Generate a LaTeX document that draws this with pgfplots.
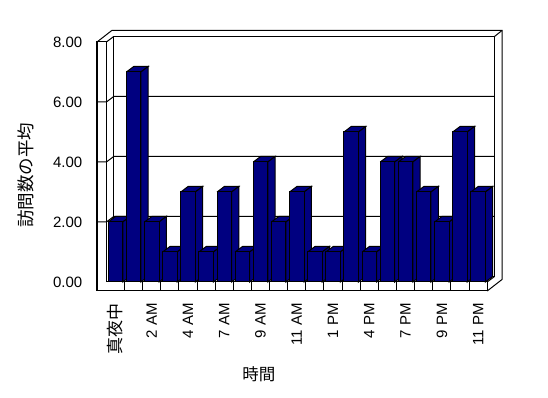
\documentclass[border=0pt]{standalone}
\usepackage{pgfplots}
\pgfplotsset{compat=1.18}
\usepackage{pgfplotstable}
\usepackage{fontspec}
\setmainfont{Liberation Sans}
\newfontfamily\cjk{Noto Sans CJK JP}
\definecolor{navybar}{RGB}{0,0,128}

\pgfplotstableread{
k v
0 2
1 7
2 2
3 1
4 3
5 1
6 3
7 1
8 4
9 2
10 3
11 1
12 1
13 5
14 1
15 4
16 4
17 3
18 2
19 5
20 3
}\datatable

\pgfplotsset{barface/.style={fill=navybar, draw=black, line width=1pt, mark=none, forget plot}}

\begin{document}
\begin{tikzpicture}
\useasboundingbox (-106.435pt,-116pt) rectangle (441.565pt,282pt);
\begin{scope}[x=1pt,y=-1pt,shift={(-106.435pt,282pt)}, line width=1pt]
  % back wall inner face
  \draw (113.7,36.5) rectangle (494.5,276.5);
  % gridlines on left wall and back wall
  \foreach \g in {222,162,102} {
    \draw (97,\g) -- (106.4,\g) -- (113.7,\g-5.5) -- (494.5,\g-5.5);
  }
  % left wall front face and floor front face
  \draw (97,42) -- (106.4,42) -- (106.4,282) -- (487.2,282) -- (487.2,291) -- (97,291) -- cycle;
  % outer top / right edges of the box
  \draw (97,42) -- (111.8,30.5) -- (502,30.5) -- (502,279.5) -- (487.2,291);
  \draw (106.4,42) -- (113.7,36.5);
  \draw (494.5,36.5) -- (502,30.5);
  \draw (487.2,282) -- (494.5,276.5);
  % separators on the floor front face
  \foreach \i in {0,...,19} {
    \draw (124.565+18.13*\i,282) -- (124.565+18.13*\i,291);
  }
\end{scope}

\begin{axis}[
  x=18.13pt, y=30pt,
  xmin=-0.5, xmax=20.5, ymin=0, ymax=8,
  axis line style={draw=none},
  clip=false,
  xtick={0,2,...,20},
  xticklabels={{\fontsize{17}{20}\selectfont\cjk 真夜中},2 AM,4 AM,7 AM,9 AM,11 AM,1 PM,4 PM,7 PM,9 PM,11 PM},
  ytick={0,2,...,8},
  major tick length=0pt,
  tick style={draw=none},
  /pgf/number format/assume math mode=true,
  yticklabel style={/pgf/number format/fixed, /pgf/number format/fixed zerofill,
    /pgf/number format/precision=2, inner sep=0pt, xshift=-24pt,
    font=\fontsize{15}{18}\selectfont},
  xticklabel style={yshift=-21pt, rotate=90, anchor=east, inner sep=0pt,
    font=\fontsize{15}{18}\selectfont},
  xlabel={\cjk 時間},
  ylabel={\cjk 訪問数の平均},
  xlabel style={at={(axis description cs:0.4007,-0.3833)}, anchor=center,
    font=\fontsize{16.5}{19}\selectfont},
  ylabel style={at={(axis description cs:-0.2111,0.4458)}, anchor=center,
    font=\fontsize{17.5}{20}\selectfont},
]
\pgfplotsinvokeforeach{0,...,20}{%
  \pgfplotstablegetelem{#1}{v}\of\datatable
  \let\barv\pgfplotsretval
  \pgfmathsetmacro\xa{#1-0.4}%
  \pgfmathsetmacro\xb{#1+0.4}%
  \pgfmathsetmacro\xc{#1-0.4+0.4026}%
  \pgfmathsetmacro\xd{#1+0.4+0.4026}%
  \pgfmathsetmacro\ya{\barv+0.1833}%
  \edef\barfaces{%
    \noexpand\addplot[barface] coordinates {(\xa,\barv) (\xc,\ya) (\xd,\ya) (\xb,\barv) (\xa,\barv)};
    \noexpand\addplot[barface] coordinates {(\xb,\barv) (\xd,\ya) (\xd,0.1833) (\xb,0) (\xb,\barv)};
  }%
  \barfaces
}
\addplot[ybar, bar width=14.5pt, fill=navybar, draw=black, line width=1pt, forget plot]
  table[x=k, y=v] {\datatable};
\end{axis}
\end{tikzpicture}
\end{document}
